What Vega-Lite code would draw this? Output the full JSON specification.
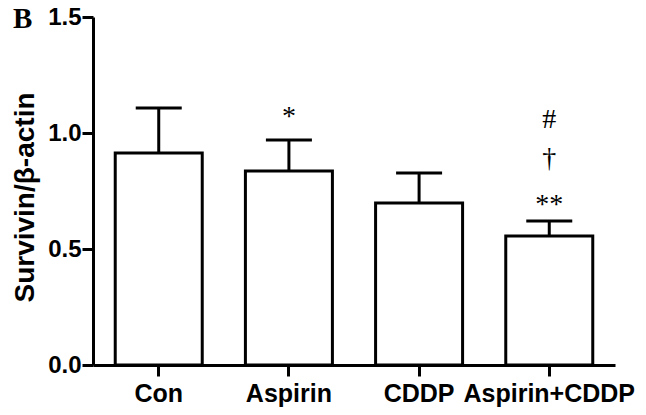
{
  "$schema": "https://vega.github.io/schema/vega-lite/v6.json",
  "width": 522,
  "height": 348,
  "autosize": {"type": "none"},
  "padding": {"left": 93, "top": 17, "right": 31, "bottom": 50},
  "background": "white",
  "title": {
    "text": "B",
    "anchor": "start",
    "frame": "group",
    "orient": "top",
    "offset": 0,
    "dx": -80,
    "dy": 52,
    "baseline": "alphabetic",
    "font": "Liberation Serif",
    "fontSize": 29,
    "fontWeight": "bold",
    "color": "black"
  },
  "datasets": {
    "bars": [
      {"group": "Con", "mean": 0.914, "upper": 1.108},
      {"group": "Aspirin", "mean": 0.836, "upper": 0.97},
      {"group": "CDDP", "mean": 0.698, "upper": 0.828},
      {"group": "Aspirin+CDDP", "mean": 0.556, "upper": 0.621}
    ],
    "marks": [
      {"group": "Aspirin", "label": "*", "pos": 1.07},
      {"group": "Aspirin+CDDP", "label": "**", "pos": 0.69},
      {"group": "Aspirin+CDDP", "label": "†", "pos": 0.89},
      {"group": "Aspirin+CDDP", "label": "#", "pos": 1.058}
    ]
  },
  "config": {
    "view": {"stroke": null},
    "axis": {
      "domainColor": "black",
      "domainWidth": 3,
      "tickColor": "black",
      "tickWidth": 3,
      "tickSize": 11,
      "grid": false,
      "labelColor": "black",
      "titleColor": "black",
      "labelFont": "Liberation Sans",
      "titleFont": "Liberation Sans",
      "labelFontWeight": "bold",
      "titleFontWeight": "bold"
    }
  },
  "encoding": {
    "x": {
      "field": "group",
      "type": "nominal",
      "sort": ["Con", "Aspirin", "CDDP", "Aspirin+CDDP"],
      "scale": {"domain": ["Con", "Aspirin", "CDDP", "Aspirin+CDDP"], "paddingInner": 0.33, "paddingOuter": 0.17},
      "axis": {"title": null, "labelAngle": 0, "labelFontSize": 25, "labelPadding": 5, "labelBaseline": "top"}
    }
  },
  "layer": [
    {
      "data": {"name": "bars"},
      "mark": {"type": "rule", "stroke": "black", "strokeWidth": 3},
      "encoding": {
        "y": {"field": "mean", "type": "quantitative"},
        "y2": {"field": "upper"}
      }
    },
    {
      "data": {"name": "bars"},
      "mark": {"type": "tick", "orient": "horizontal", "size": 46, "thickness": 3, "color": "black", "opacity": 1},
      "encoding": {
        "y": {"field": "upper", "type": "quantitative"}
      }
    },
    {
      "data": {"name": "bars"},
      "mark": {"type": "bar", "fill": "white", "stroke": "black", "strokeWidth": 3, "width": 87},
      "encoding": {
        "y": {
          "field": "mean",
          "type": "quantitative",
          "scale": {"domain": [0, 1.5], "nice": false},
          "axis": {
            "title": "Survivin/β-actin",
            "values": [0, 0.5, 1.0, 1.5],
            "format": ".1f",
            "labelFontSize": 24,
            "labelPadding": 1,
            "titleFontSize": 28,
            "titleX": -68,
            "titleY": 180,
            "titleAngle": -90,
            "titleAlign": "center",
            "titleBaseline": "middle"
          }
        }
      }
    },
    {
      "data": {"name": "marks"},
      "mark": {"type": "text", "font": "Liberation Serif", "fontSize": 28, "baseline": "middle", "align": "center", "color": "black"},
      "encoding": {
        "y": {"field": "pos", "type": "quantitative"},
        "text": {"field": "label"}
      }
    }
  ]
}
